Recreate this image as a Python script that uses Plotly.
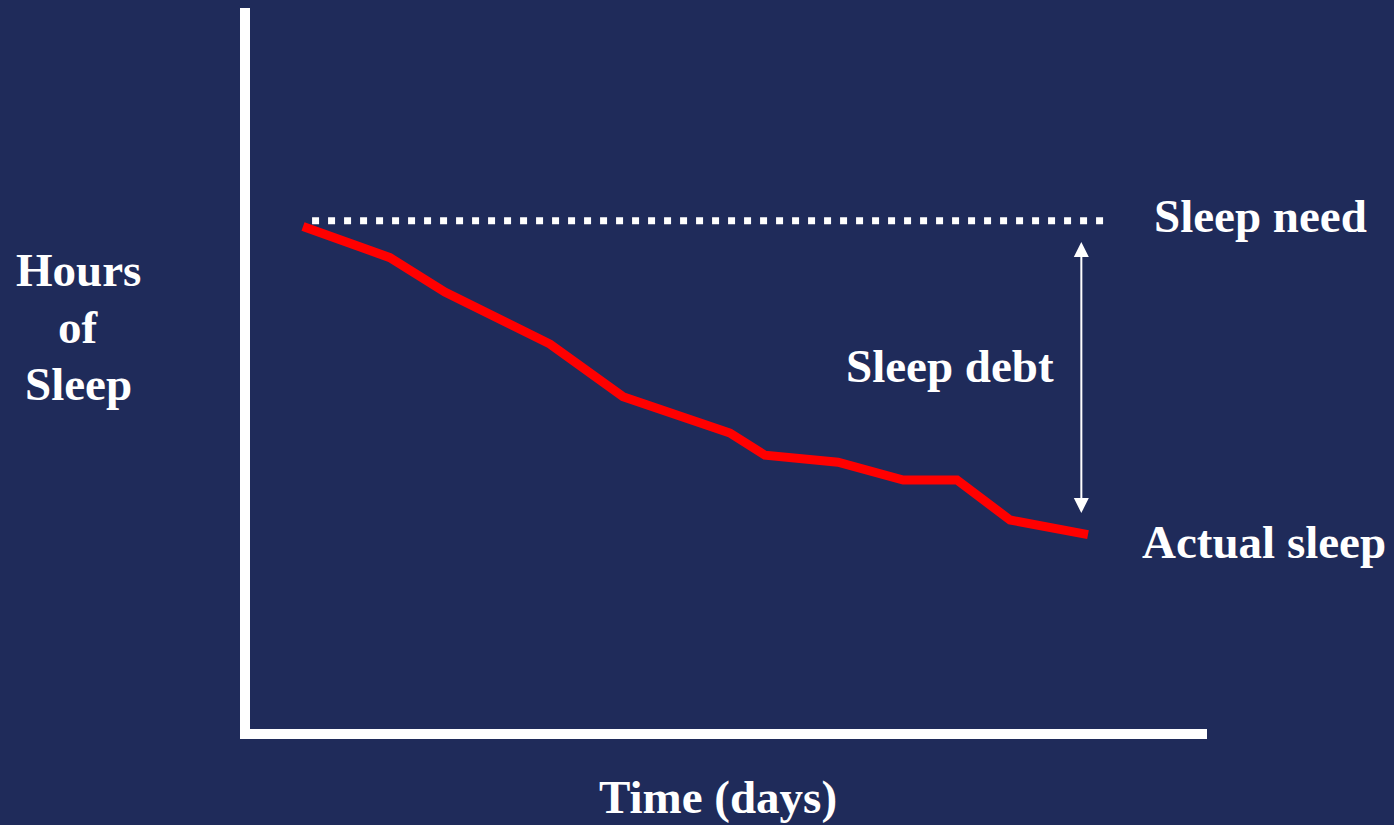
import plotly.graph_objects as go

# Data (days, hours)
actual_days = [1.0, 2.44, 3.35, 5.09, 6.30, 8.07, 8.65, 9.86, 10.94, 11.83, 12.71, 14.0]
actual_hours = [7.91, 7.42, 6.88, 6.06, 5.23, 4.66, 4.31, 4.20, 3.92, 3.92, 3.29, 3.06]
need_days = [1.15, 14.28]
need_hours = [8.0, 8.0]
debt_day = 13.89
debt_top = 7.69
debt_bottom = 3.40

BG = "#1f2b5a"
FONT = "Liberation Serif"

fig = go.Figure()
fig.add_trace(go.Scatter(x=need_days, y=need_hours, mode="lines",
                         line=dict(color="white", width=7, dash="7px,9px"),
                         hoverinfo="skip", showlegend=False))
fig.add_trace(go.Scatter(x=actual_days, y=actual_hours, mode="lines",
                         line=dict(color="#ff0000", width=9),
                         hoverinfo="skip", showlegend=False))

# double-headed arrow for sleep debt
fig.add_annotation(x=debt_day, y=debt_bottom, ax=debt_day, ay=debt_top,
                   xref="x", yref="y", axref="x", ayref="y", text="",
                   showarrow=True, arrowhead=2, arrowside="end+start",
                   arrowsize=1.5, arrowwidth=2, arrowcolor="white")

W, H = 1394, 825
L, R, T, B = 250, 1207, 8, 729

def px(xp):
    return (xp - L) / (R - L)

def py(yp):
    return (B - yp) / (B - T)

labels = [
    ("Sleep need", 1260, 216),
    ("Actual sleep", 1264, 542),
    ("Sleep debt", 950, 366),
    ("Time (days)", 718, 797),
    ("Hours", 78, 270),
    ("of", 78, 327),
    ("Sleep", 78, 384),
]
for txt, xx, yy in labels:
    fig.add_annotation(x=px(xx), y=py(yy), xref="paper", yref="paper",
                       text="<b>%s</b>" % txt, showarrow=False,
                       xanchor="center", yanchor="middle",
                       font=dict(family=FONT, size=47, color="white"))

fig.update_layout(
    width=W, height=H,
    margin=dict(l=L, r=W - R, t=T, b=H - B, pad=0),
    paper_bgcolor=BG, plot_bgcolor=BG,
    showlegend=False,
    xaxis=dict(range=[0.122, 15.971], showline=True, linewidth=10, linecolor="white",
               showgrid=False, zeroline=False, showticklabels=False, ticks=""),
    yaxis=dict(range=[0, 11.35], showline=True, linewidth=10, linecolor="white",
               showgrid=False, zeroline=False, showticklabels=False, ticks=""),
)

fig.write_html("out.html", config={"displayModeBar": False},
               post_script="document.body.style.margin='0';document.body.style.overflow='hidden';")
